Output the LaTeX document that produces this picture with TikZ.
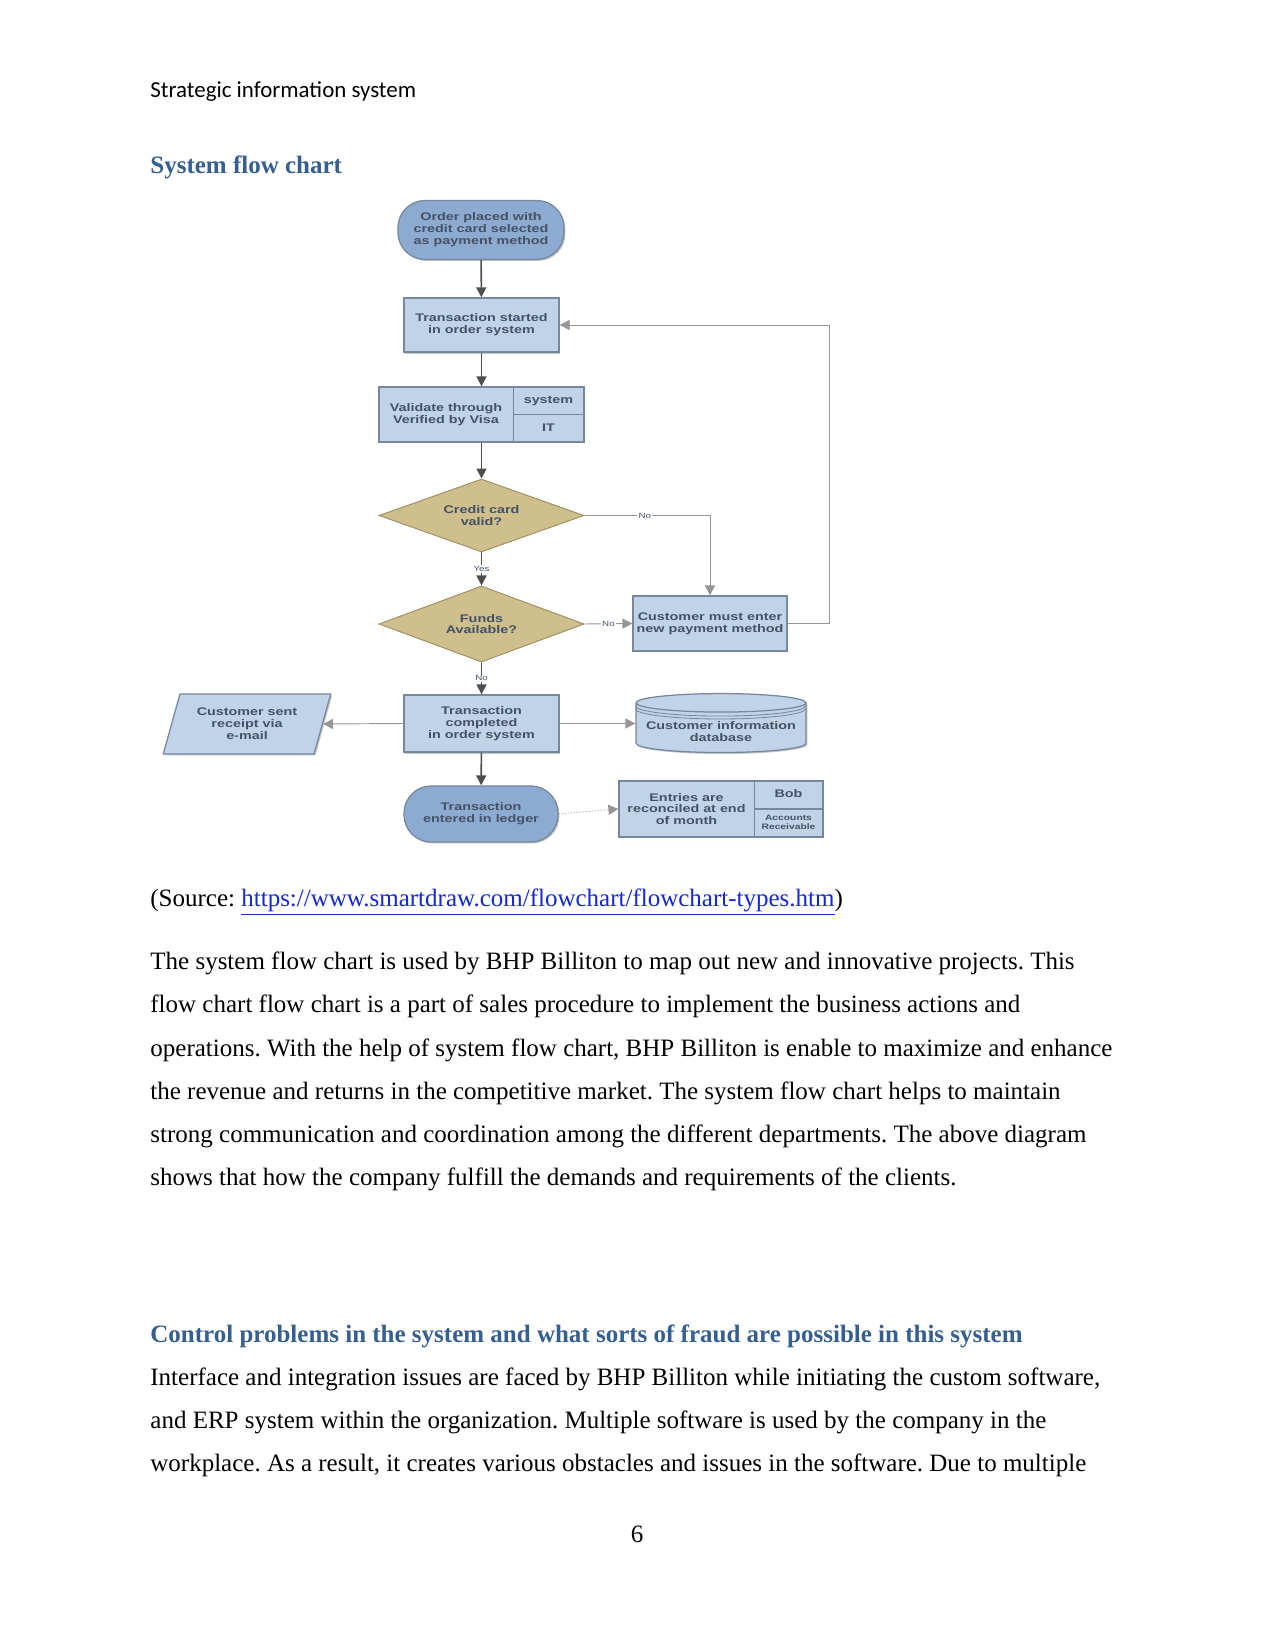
\documentclass[tikz,border=0pt]{standalone}
\usepackage{fontspec}
\setmainfont{Liberation Serif}
\newfontfamily\hdrfont{Carlito}
\newfontfamily\chartfont[FakeStretch=1.3]{Liberation Sans}
\usetikzlibrary{shapes.geometric, arrows.meta, shadows, calc}
\frenchspacing

\definecolor{boxfill}{RGB}{193,211,233}
\definecolor{boxline}{RGB}{118,136,158}
\definecolor{termfill}{RGB}{141,170,209}
\definecolor{diafill}{RGB}{206,191,140}
\definecolor{dialine}{RGB}{160,148,105}
\definecolor{charttext}{RGB}{68,82,102}
\definecolor{linedark}{RGB}{78,78,78}
\definecolor{linelight}{RGB}{150,150,150}
\definecolor{headblue}{RGB}{54,95,145}
\definecolor{linkblue}{RGB}{20,40,215}

\begin{document}
\begin{tikzpicture}[x=0.48pt, y=-0.48pt,
  chart/.style={font={\chartfont\bfseries\fontsize{5.3}{5.7}\selectfont}, text=charttext, align=center, inner sep=1pt},
  proc/.style={chart, rectangle, draw=boxline, fill=boxfill, line width=0.6pt,
               drop shadow={shadow xshift=0.7pt, shadow yshift=-0.7pt, fill=black!45, opacity=0.5}},
  term/.style={proc, rounded corners=13pt, fill=termfill},
  decide/.style={chart, diamond, aspect=2.7, draw=dialine, fill=diafill, line width=0.5pt},
  lbl/.style={font={\chartfont\fontsize{3.6}{4}\selectfont}, text=charttext, fill=white, inner sep=0.6pt},
  arrow/.style={-{Triangle[length=4.8pt, width=4.8pt]}, line width=0.75pt, draw=linedark},
  side/.style={-{Triangle[length=4.8pt, width=4.8pt]}, line width=0.45pt, draw=linelight},
  rim/.style={draw=boxline, line width=0.4pt},
  bodyline/.style={anchor=base west, inner sep=0pt, font=\fontsize{12}{14}\selectfont},
  heading/.style={bodyline, font=\fontsize{12}{14}\selectfont\bfseries, text=headblue}
]
  \useasboundingbox (0,0) rectangle (1275,1651);
  \fill[white] (0,0) rectangle (1275,1651);

  % page text above the chart
  \node[anchor=base west, inner sep=0pt, font=\hdrfont\fontsize{11}{13}\selectfont] (header) at (150,98) {Strategic information system};
  \node[heading] (head1) at (150,174) {System flow chart};

  % flow chart
  \node[term, minimum width=79.7pt, minimum height=28.3pt] (start) at (481,230) {Order placed with\\credit card selected\\as payment method};
  \node[proc, minimum width=74.4pt, minimum height=26pt] (started) at (481.5,325) {Transaction started\\in order system};
  \node[proc, minimum width=98.4pt, minimum height=26.4pt] (visa) at (481.5,414.5) {};
  \coordinate (vdiv) at ($(visa.north west)!0.654!(visa.north east)$);
  \draw[boxline, line width=0.6pt] (vdiv) -- (vdiv |- visa.south);
  \draw[boxline, line width=0.6pt] (vdiv |- visa.east) -- (visa.east);
  \node[chart] (visatxt) at (446,414.5) {Validate through\\Verified by Visa};
  \node[chart] (sys) at (548.5,401) {system};
  \node[chart] (itdept) at (548.5,428) {IT};
  \node[decide, minimum width=98.4pt, minimum height=35pt] (ccvalid) at (481.5,515.5) {Credit card\\valid?};
  \node[decide, minimum width=98.4pt, minimum height=36.5pt] (funds) at (481.5,624) {Funds\\Available?};
  \node[proc, minimum width=73.9pt, minimum height=26.4pt] (newpay) at (710,623.5) {Customer must enter\\new payment method};
  \node[proc, minimum width=74.4pt, minimum height=27.4pt] (done) at (481.5,723.5) {Transaction\\completed\\in order system};
  \node[proc, trapezium, trapezium left angle=70, trapezium right angle=110, trapezium stretches=true,
        minimum width=80.6pt, minimum height=28.8pt] (receipt) at (247,724) {Customer sent\\receipt via\\e-mail};
  \node[proc, cylinder, shape border rotate=90, aspect=0.12, minimum width=81.6pt, minimum height=28.3pt] (custdb) at (721,729) {\\[0.5pt]Customer information\\database};
  \draw[rim] ([yshift=-6.2pt]custdb.north -| custdb.west) arc[start angle=180, end angle=360, x radius=40.8pt, y radius=4.9pt];
  \draw[rim] ([yshift=-7.6pt]custdb.north -| custdb.west) arc[start angle=180, end angle=360, x radius=40.8pt, y radius=4.9pt];
  \node[term, minimum width=73.9pt, minimum height=26.9pt] (ledger) at (481,814) {Transaction\\entered in ledger};
  \node[proc, minimum width=97.9pt, minimum height=26.9pt] (entries) at (721,809) {};
  \coordinate (ediv) at ($(entries.north west)!0.662!(entries.north east)$);
  \draw[boxline, line width=0.6pt] (ediv) -- (ediv |- entries.south);
  \draw[boxline, line width=0.6pt] (ediv |- entries.east) -- (entries.east);
  \node[chart] (entriestxt) at (686.5,809) {Entries are\\reconciled at end\\of month};
  \node[chart] (bob) at (788.5,794) {Bob};
  \node[chart, font={\chartfont\bfseries\fontsize{3.8}{4.4}\selectfont}] (accrec) at (788.5,822) {Accounts\\Receivable};

  \draw[arrow] (start) -- (started);
  \draw[arrow] (started) -- (visa);
  \draw[arrow] (visa) -- (ccvalid);
  \draw[arrow] (ccvalid) -- node[lbl] {Yes} (funds);
  \draw[side] (ccvalid.east) -| node[lbl, pos=0.24] {No} (newpay.north);
  \draw[side] (funds.east) -- node[lbl] {No} (newpay.west);
  \draw[side] (newpay.east) -- ++(42,0) |- (started.east);
  \draw[arrow] (funds) -- node[lbl] {No} (done);
  \draw[side] (done.west) -- (receipt.east);
  \draw[side] (done.east) -- (done.east -| custdb.west);
  \draw[arrow] (done) -- (ledger);
  \draw[side, densely dotted] (ledger.east) -- (entries.west);

  % page text below the chart
  \node[bodyline] (source) at (150,906.5) {(Source: \textcolor{linkblue}{\underline{https://www.smartdraw.com/flowchart/flowchart-types.htm}})};
  \node[bodyline] (para1a) at (150,969.5) {The system flow chart is used by BHP Billiton to map out new and innovative projects. This};
  \node[bodyline] (para1b) at (150,1012.5) {flow chart flow chart is a part of sales procedure to implement the business actions and};
  \node[bodyline] (para1c) at (150,1056) {operations. With the help of system flow chart, BHP Billiton is enable to maximize and enhance};
  \node[bodyline] (para1d) at (150,1099.5) {the revenue and returns in the competitive market. The system flow chart helps to maintain};
  \node[bodyline] (para1e) at (150,1142.5) {strong communication and coordination among the different departments. The above diagram};
  \node[bodyline] (para1f) at (150,1185.5) {shows that how the company fulfill the demands and requirements of the clients.};
  \node[heading] (head2) at (150,1342.5) {Control problems in the system and what sorts of fraud are possible in this system};
  \node[bodyline] (para2a) at (150,1385.5) {Interface and integration issues are faced by BHP Billiton while initiating the custom software,};
  \node[bodyline] (para2b) at (150,1428.5) {and ERP system within the organization. Multiple software is used by the company in the};
  \node[bodyline] (para2c) at (150,1471.5) {workplace. As a result, it creates various obstacles and issues in the software. Due to multiple};
  \node[anchor=base, inner sep=0pt, font=\fontsize{12}{14}\selectfont] (pagenum) at (637,1542.5) {6};
\end{tikzpicture}
\end{document}
